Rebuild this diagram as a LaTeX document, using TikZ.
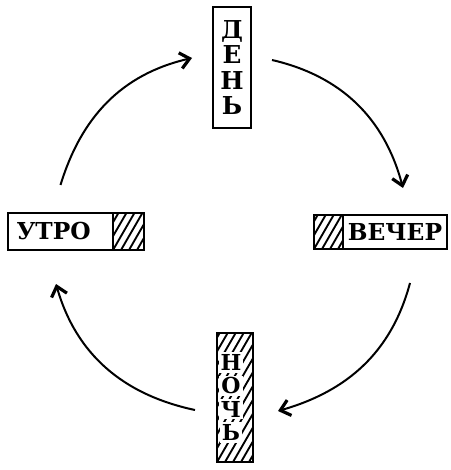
\documentclass[tikz,border=0pt]{standalone}
\usepackage{fontspec}
\setmainfont{DejaVu Serif}
\usetikzlibrary{arrows.meta,positioning}
\newcommand\halo[1]{{\setlength\fboxsep{1.5pt}\colorbox{white}{#1}}}
\tikzset{part/.style={draw,line width=1.5pt,outer sep=0pt,inner sep=0pt,
font=\bfseries\fontsize{17.5}{20}\selectfont},
upright/.style={part,align=center,font=\bfseries\fontsize{18.5}{19}\selectfont},
hatched/.style={part,path picture={\foreach \k in {-12,...,5}
  \draw[line width=1.4pt]([xshift=\k*6pt]path picture bounding box.south west)--++(70pt,121pt);}},
flow/.style={-{Straight Barb[length=7pt,width=12pt,line width=2.4pt]},line width=1.5pt}}

\begin{document}
\begin{tikzpicture}[x=0.75pt,y=-0.75pt]
\useasboundingbox (0,0) rectangle (450,470);
\node[upright,minimum width=28.5pt,minimum height=90.75pt](den) at (232,67.5){Д\\Е\\Н\\Ь};
\node[part,minimum width=78.75pt,minimum height=27.75pt,text width=66pt,align=left](utro) at (60.5,231.5){УТРО};
\node[hatched,right=0pt of utro,minimum width=23.25pt,minimum height=27.75pt](utroh){};
\node[part,minimum width=78pt,minimum height=25.5pt](vecher) at (395,232){ВЕЧЕР};
\node[hatched,left=0pt of vecher,minimum width=21.75pt,minimum height=25.5pt](vecherh){};
\node[hatched,minimum width=27pt,minimum height=96.75pt](noch) at (235,397.5){};
\node[upright,draw=none,font=\bfseries\fontsize{16.5}{17.5}\selectfont,xshift=-3pt] at (noch)
  {\halo{Н}\\\halo{О}\\\halo{Ч}\\\halo{Ь}};
\draw[flow]([shift={(0,-28)}]utro.north) to[out=73,in=193] ([shift={(-21,-9.5)}]den.west);
\draw[flow]([shift={(21,-7.5)}]den.east) to[out=-13,in=105] ([shift={(8,-27)}]vecher.north);
\draw[flow]([shift={(15,34)}]vecher.south) to[out=255,in=16] ([shift={(25,13.5)}]noch.east);
\draw[flow]([shift={(-22,12.5)}]noch.west) to[out=168,in=286] ([shift={(-4.5,34)}]utro.south);
\end{tikzpicture}
\end{document}
